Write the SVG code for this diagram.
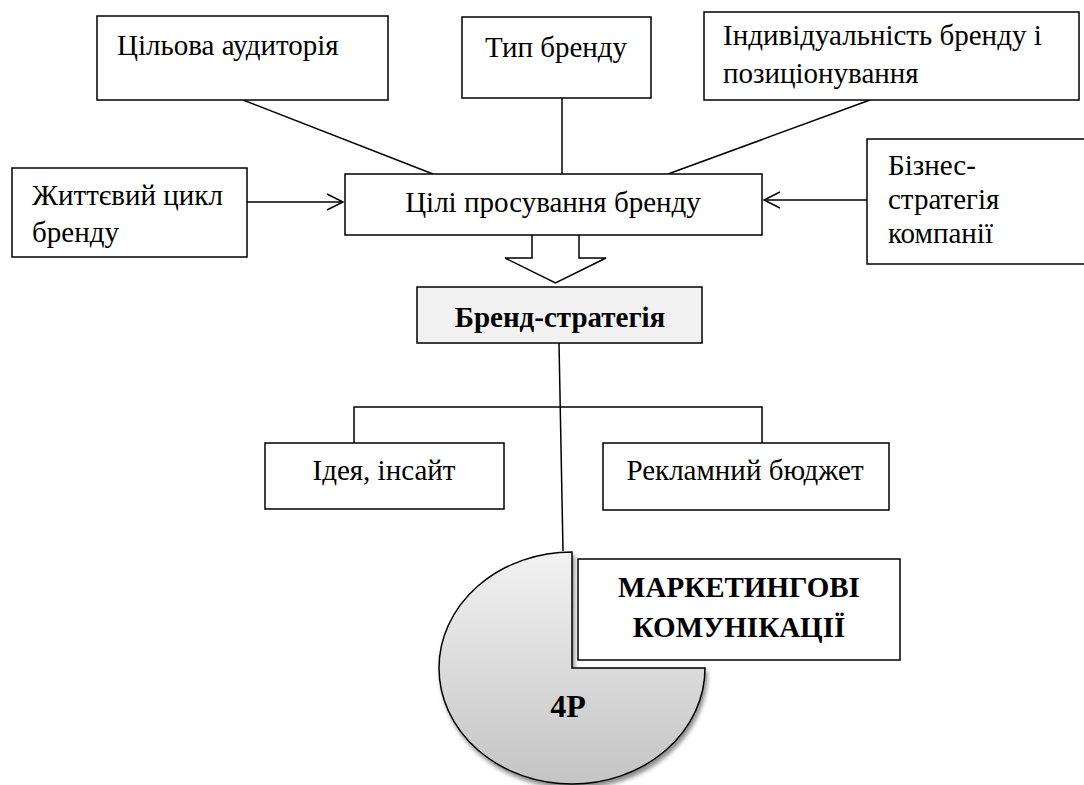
<svg xmlns="http://www.w3.org/2000/svg" width="1084" height="785" viewBox="0 0 1084 785">
<style>
.box{fill:#fff;stroke:#000;stroke-width:1.5}
.ln{fill:none;stroke:#000;stroke-width:1.5}
</style>
<defs>
<marker id="open" viewBox="0 0 20 20" refX="18" refY="10" markerWidth="20" markerHeight="20" markerUnits="userSpaceOnUse" orient="auto">
<path d="M2,2 L18,10 L2,18" fill="none" stroke="#000" stroke-width="1.5"/>
</marker>
<linearGradient id="pg" x1="0" y1="0" x2="0" y2="1">
<stop offset="0" stop-color="#f2f2f2"/>
<stop offset="1" stop-color="#c4c4c4"/>
</linearGradient>
<filter id="sh" x="-10%" y="-10%" width="125%" height="125%">
<feDropShadow dx="2" dy="4" stdDeviation="2" flood-color="#000" flood-opacity="0.45"/>
</filter>
</defs>
<g id="connectors">
<line class="ln" x1="243" y1="100" x2="433" y2="174"/>
<line class="ln" x1="562" y1="98" x2="562" y2="174"/>
<line class="ln" x1="870" y1="100" x2="668" y2="174"/>
<line class="ln" x1="247" y1="202" x2="343" y2="202" marker-end="url(#open)"/>
<line class="ln" x1="867" y1="200" x2="764" y2="200" marker-end="url(#open)"/>
<path d="M532,235 L532,258 L505,258 L555.5,283 L606,258 L579,258 L579,235" fill="#fff" stroke="#000" stroke-width="1.5"/>
<line class="ln" x1="559" y1="343" x2="563" y2="551"/>
<path class="ln" d="M354,443 L354,407 L762,407 L762,443"/>
</g>
<g id="n-audience">
<rect class="box" x="97" y="16" width="291" height="84"/>
<text x="117" y="55" font-family="Liberation Serif" font-size="29">Цільова аудиторія</text>
</g>
<g id="n-type">
<rect class="box" x="462" y="17" width="189" height="81"/>
<text x="556" y="57" font-family="Liberation Serif" font-size="29" text-anchor="middle">Тип бренду</text>
</g>
<g id="n-identity">
<rect class="box" x="704" y="12" width="375" height="88"/>
<text x="723" y="45" font-family="Liberation Serif" font-size="29">Індивідуальність бренду і</text>
<text x="723" y="83" font-family="Liberation Serif" font-size="29">позиціонування</text>
</g>
<g id="n-lifecycle">
<rect class="box" x="12" y="168" width="235" height="89"/>
<text x="32" y="205" font-family="Liberation Serif" font-size="29">Життєвий цикл</text>
<text x="32" y="242" font-family="Liberation Serif" font-size="29">бренду</text>
</g>
<g id="n-goals">
<rect class="box" x="345" y="174" width="417" height="61"/>
<text x="553" y="212" font-family="Liberation Serif" font-size="29" text-anchor="middle">Цілі просування бренду</text>
</g>
<g id="n-business">
<rect class="box" x="867" y="139" width="220" height="125"/>
<text x="888" y="175" font-family="Liberation Serif" font-size="29">Бізнес-</text>
<text x="888" y="209" font-family="Liberation Serif" font-size="29">стратегія</text>
<text x="888" y="243" font-family="Liberation Serif" font-size="29">компанії</text>
</g>
<g id="n-strategy">
<rect x="417" y="287" width="285" height="56" fill="#f2f2f2" stroke="#000" stroke-width="1.5"/>
<text x="560" y="327" font-family="Liberation Serif" font-size="29" font-weight="bold" text-anchor="middle">Бренд-стратегія</text>
</g>
<g id="n-idea">
<rect class="box" x="265" y="443" width="239" height="66"/>
<text x="384" y="480" font-family="Liberation Serif" font-size="29" text-anchor="middle">Ідея, інсайт</text>
</g>
<g id="n-budget">
<rect class="box" x="603" y="443" width="286" height="67"/>
<text x="745" y="480" font-family="Liberation Serif" font-size="29" text-anchor="middle">Рекламний бюджет</text>
</g>
<g id="n-4p">
<path d="M572,552 A133,116 0 1,0 705,668 L572,668 Z" fill="url(#pg)" stroke="#000" stroke-width="1.5" filter="url(#sh)"/>
<text x="568" y="717" font-family="Liberation Serif" font-size="32" font-weight="bold" text-anchor="middle">4P</text>
</g>
<g id="n-marketing">
<rect class="box" x="578" y="559" width="322" height="101"/>
<text x="739" y="597" font-family="Liberation Serif" font-size="29" font-weight="bold" text-anchor="middle">МАРКЕТИНГОВІ</text>
<text x="739" y="637" font-family="Liberation Serif" font-size="29" font-weight="bold" text-anchor="middle">КОМУНІКАЦІЇ</text>
</g>
</svg>
